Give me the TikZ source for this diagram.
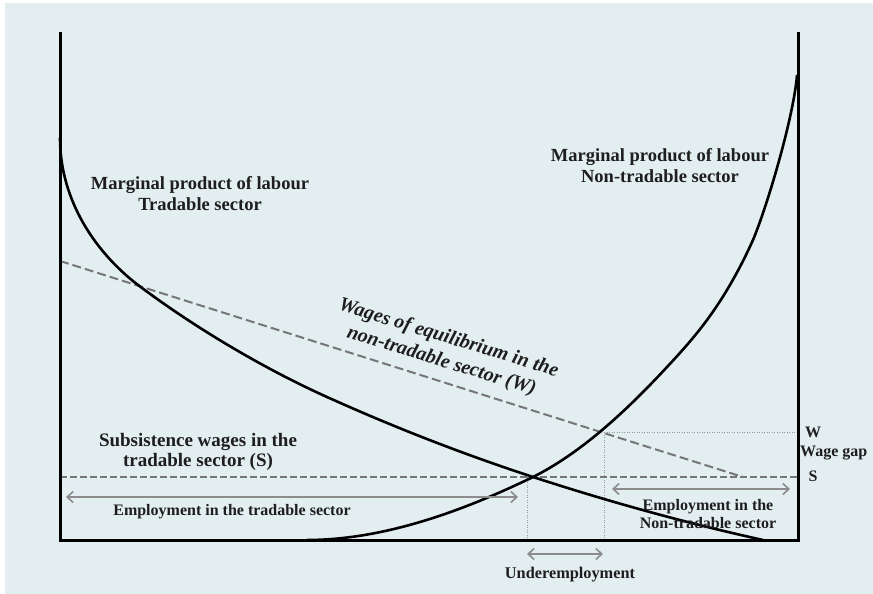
\documentclass[tikz,border=0pt]{standalone}
\usepackage{fontspec}
\setmainfont{Liberation Serif}
\usetikzlibrary{arrows.meta}
\definecolor{bgc}{RGB}{226,238,240}
\definecolor{dashc}{RGB}{118,118,118}
\definecolor{arrc}{RGB}{140,140,140}
\definecolor{dotc}{RGB}{150,150,150}
\definecolor{txt}{RGB}{30,30,30}
\tikzset{
  axis/.style={line width=3pt, black, line join=miter},
  curve/.style={line width=2.6pt, black},
  wdash/.style={line width=2pt, dashc, dash pattern=on 9pt off 4pt},
  sdash/.style={line width=2pt, dashc, dash pattern=on 7pt off 3pt},
  dotline/.style={line width=0.8pt, dotc, dash pattern=on 1pt off 1.5pt},
  span/.style={line width=1.6pt, arrc, {Straight Barb[length=6pt,width=11pt]}-{Straight Barb[length=6pt,width=11pt]}},
  lbl/.style={text=txt, font=\bfseries, align=center, inner sep=0pt},
}
\begin{document}
\begin{tikzpicture}[x=1pt,y=-1pt]
\useasboundingbox (0,0) rectangle (873,594);
\fill[white] (0,0) rectangle (873,594);
\fill[bgc] (5,3) rectangle (873,594);
% key points
\coordinate (TL) at (60,32);
\coordinate (O) at (60,540);
\coordinate (R) at (798,540);
\coordinate (RT) at (798,32);
\coordinate (Wpt) at (604,432);
\coordinate (Wr) at (798,432);
\coordinate (Wb) at (604,540);
\coordinate (Eq) at (527,477);
\coordinate (Eqb) at (527,540);
\coordinate (W0) at (60,261);
\coordinate (W1) at (743,477);
\coordinate (S0) at (60,477);
\coordinate (S1) at (798,477);
% dotted guides
\draw[dotline] (Wpt) -- (Wr);
\draw[dotline] (Wpt) -- (Wb);
\draw[dotline] (Eq) -- (Eqb);
% dashed wage lines
\draw[wdash] (W0) -- (W1);
\draw[sdash] (S0) -- (S1);
% marginal product of labour, tradable sector
\draw[curve] (60,138) .. controls (60,200) and (95,252) .. (138,285)
  .. controls (198,330) and (267,370) .. (327,397)
  .. controls (397,428.5) and (463,454) .. (533,477)
  .. controls (610,502) and (686,523) .. (763,540);
% marginal product of labour, non-tradable sector
\draw[curve] (307,540) .. controls (390,540) and (473,506) .. (533,477)
  .. controls (578,454.5) and (622,415.6) .. (667,367)
  .. controls (696,336) and (724,304) .. (753,240)
  .. controls (768,204) and (794,115) .. (797,75);
% axes
\draw[axis] (TL) -- (O) -- (R) -- (RT);
% span arrows
\coordinate (A1) at (66,497); \coordinate (A2) at (518,497);
\coordinate (B1) at (612,489); \coordinate (B2) at (790,489);
\coordinate (C1) at (527,554); \coordinate (C2) at (603,554);
\draw[span] (A1) -- (A2);
\draw[span] (B1) -- (B2);
\draw[span] (C1) -- (C2);
% labels
\node[lbl, font=\bfseries\fontsize{18.5}{21}\selectfont] (mplT) at (200,194) {Marginal product of labour\\Tradable sector};
\node[lbl, font=\bfseries\fontsize{18.5}{21}\selectfont] (mplN) at (660,166) {Marginal product of labour\\Non-tradable sector};
\node[lbl, font=\bfseries\fontsize{19}{20.5}\selectfont] (subs) at (198,452) {Subsistence wages in the\\tradable sector (S)};
\node[lbl, font=\bfseries\itshape\fontsize{20}{24}\selectfont, rotate=-17] (weq) at (445,350) {Wages of equilibrium in the\\non-tradable sector (W)};
\node[lbl, font=\bfseries\fontsize{16}{18}\selectfont] (empT) at (232,512) {Employment in the tradable sector};
\node[lbl, font=\bfseries\fontsize{16}{18}\selectfont] (empN) at (708,514) {Employment in the\\Non-tradable sector};
\node[lbl, font=\bfseries\fontsize{16.3}{18}\selectfont] (under) at (570,575) {Underemployment};
\node[lbl, font=\bfseries\fontsize{16}{18}\selectfont] (Wl) at (813,432) {W};
\node[lbl, font=\bfseries\fontsize{16}{18}\selectfont, anchor=west] (gap) at (800,453) {Wage gap};
\node[lbl, font=\bfseries\fontsize{16}{18}\selectfont] (Sl) at (813,476) {S};
\end{tikzpicture}
\end{document}
